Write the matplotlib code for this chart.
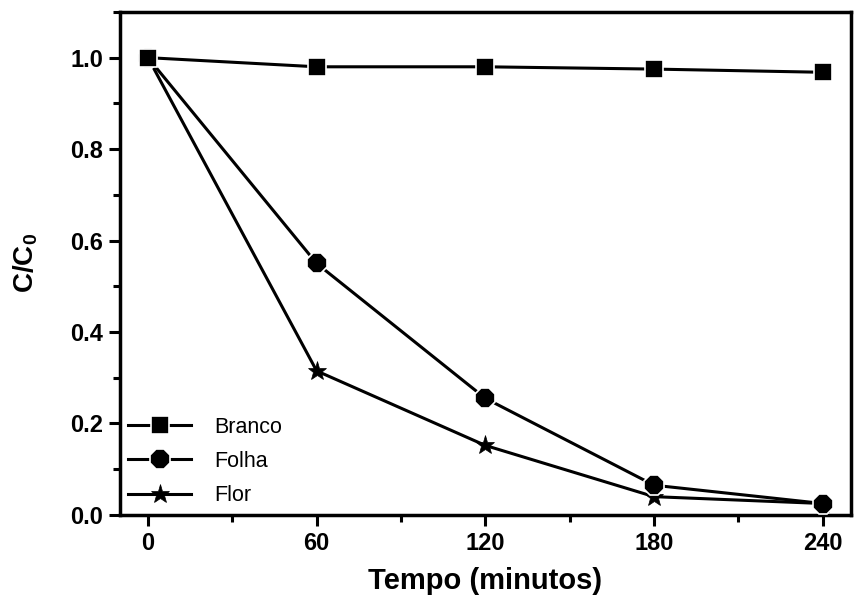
import matplotlib
matplotlib.use("Agg")
import matplotlib.pyplot as plt
from matplotlib.ticker import MultipleLocator

plt.rcParams['font.family'] = ['Liberation Sans', 'DejaVu Sans']
plt.rcParams['mathtext.fontset'] = 'custom'
plt.rcParams['mathtext.rm'] = 'Liberation Sans:bold'
plt.rcParams['mathtext.bf'] = 'Liberation Sans:bold'

# time points (minutes)
tempo = [0, 60, 120, 180, 240]

# C/C0 values
branco = [1.0, 0.98, 0.98, 0.975, 0.968]
folha = [1.0, 0.55, 0.255, 0.065, 0.025]
flor = [1.0, 0.315, 0.152, 0.04, 0.025]

fig = plt.figure(figsize=(8.56, 5.96), dpi=100)
ax = fig.add_axes([0.140, 0.136, 0.854, 0.844])

# white marker edge gives the small gap between line and symbol
style = dict(color='black', lw=2.2, mfc='black', mec='white', mew=1.2)
ax.plot(tempo, branco, marker='s', ms=13, label='Branco', zorder=4, **style)
ax.plot(tempo, folha, marker='8', ms=15, label='Folha', zorder=3, **style)
ax.plot(tempo, flor, color='black', lw=2.2, marker='*', ms=14, mec='black',
        mew=0.5, label='Flor', zorder=2)

ax.set_xlim(-10, 250)
ax.set_ylim(0, 1.1)
ax.set_xticks(tempo)
ax.set_yticks([0.0, 0.2, 0.4, 0.6, 0.8, 1.0])
ax.xaxis.set_minor_locator(MultipleLocator(30))
ax.yaxis.set_minor_locator(MultipleLocator(0.1))
ax.tick_params(which='major', direction='out', length=8, width=2.2, labelsize=17, pad=4)
ax.tick_params(which='minor', direction='out', length=5, width=2.2)
for lab in ax.get_xticklabels() + ax.get_yticklabels():
    lab.set_fontweight('bold')
for sp in ax.spines.values():
    sp.set_linewidth(2.5)

ax.set_xlabel('Tempo (minutos)', fontsize=21, fontweight='bold', labelpad=9)
ax.set_ylabel(r'C/C$_\mathbf{0}$', fontsize=20, fontweight='bold', labelpad=22)

ax.legend(loc='lower left', frameon=False, fontsize=15.5, handlelength=2.9,
          handletextpad=1.1, labelspacing=0.62, borderaxespad=0.0,
          bbox_to_anchor=(0.0, 0.0))

fig.savefig('out.png', dpi=100)
